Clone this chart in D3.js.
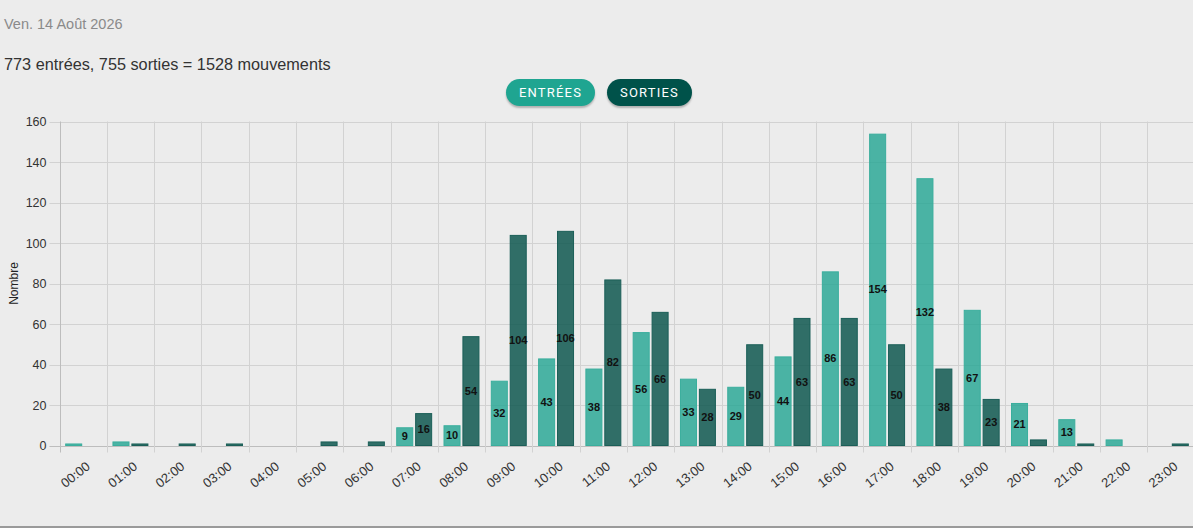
<!DOCTYPE html>
<html>
<head>
<meta charset="utf-8">
<script src="https://cdn.jsdelivr.net/npm/d3@7/dist/d3.min.js"></script>
<style>
  html, body { margin: 0; padding: 0; background: #ececec; width: 1193px; height: 528px; overflow: hidden; }
  body { position: relative; font-family: "Liberation Sans", Arial, Helvetica, sans-serif; }
  .date { position: absolute; left: 4px; top: 16px; font-size: 14.5px; color: #8a8a8a; }
  .summary { position: absolute; left: 4px; top: 55px; font-size: 16.25px; color: #333; }
  .btn { position: absolute; top: 79px; height: 27px; line-height: 27px; border-radius: 14px; color: #fff;
         font-family: Roboto, "Liberation Sans", sans-serif; font-size: 13px; letter-spacing: 1.2px; text-align: center;
         box-shadow: 0 2px 2px rgba(0,0,0,0.25); z-index: 2; }
  .bottomline { position: absolute; left: 0; top: 526px; width: 1193px; height: 2px; background: #9a9a9a; }
  svg { position: absolute; left: 0; top: 0; }
</style>
</head>
<body>
<div class="date">Ven. 14 Août 2026</div>
<div class="summary">773 entrées, 755 sorties = 1528 mouvements</div>
<div id="legend"></div>
<svg id="chart" width="1193" height="528"></svg>
<div class="bottomline"></div>
<script>
const hours = ["00:00","01:00","02:00","03:00","04:00","05:00","06:00","07:00","08:00","09:00","10:00","11:00",
               "12:00","13:00","14:00","15:00","16:00","17:00","18:00","19:00","20:00","21:00","22:00","23:00"];
const entrees = [1,2,0,0,0,0,0,9,10,32,43,38,56,33,29,44,86,154,132,67,21,13,3,0];
const sorties = [0,1,1,1,0,2,2,16,54,104,106,82,66,28,50,63,63,50,38,23,3,1,0,1];
const yTicks = [0,20,40,60,80,100,120,140,160];
const seriesNames = ["ENTRÉES","SORTIES"];
const seriesFill = ["rgba(38,166,148,0.82)","rgba(16,88,80,0.86)"];
const seriesStroke = ["#3aae9d","#1b5f58"];
const buttonColors = ["#1fa591","#00524a"];

// legend buttons
const legend = d3.select("#legend");
const btnPos = [{left:506,width:89},{left:607,width:85}];
seriesNames.forEach((n,i)=>{
  legend.append("div").attr("class","btn")
    .style("left",btnPos[i].left+"px").style("width",btnPos[i].width+"px")
    .style("background",buttonColors[i]).text(n);
});

const svg = d3.select("#chart");
const pLeft = 59.5, pRight = 1194.5, pTop = 121.5, pBottom = 445.5;

const x = d3.scaleBand().domain(hours).range([pLeft, pRight]).paddingInner(0).paddingOuter(0);
const y = d3.scaleLinear().domain([0,160]).range([pBottom, pTop]);
const x1 = d3.scaleBand().domain([0,1]).range([x.bandwidth()*0.1, x.bandwidth()*0.9]).paddingInner(0.1).paddingOuter(0.05);

// gridlines
const grid = svg.append("g");
yTicks.forEach(t=>{
  const gy = Math.round(y(t))+0.5;
  grid.append("line").attr("x1",pLeft-10).attr("x2",pRight).attr("y1",gy).attr("y2",gy)
    .attr("stroke", t===0 ? "#bdbdbd" : "#d2d2d2").attr("stroke-width",1);
});
hours.forEach((h,i)=>{
  const gx = Math.round(x(h))+0.5;
  grid.append("line").attr("x1",gx).attr("x2",gx).attr("y1",pTop).attr("y2",pBottom+7)
    .attr("stroke", i===0 ? "#bdbdbd" : "#d2d2d2").attr("stroke-width",1);
});

// y axis labels
const yAxis = d3.axisLeft(y).tickValues(yTicks).tickSize(0).tickPadding(13);
const yg = svg.append("g").attr("transform",`translate(${pLeft},0)`).call(yAxis);
yg.select(".domain").remove();
yg.selectAll("text").attr("font-family","Liberation Sans, Arial, sans-serif").attr("font-size",12.5).attr("fill","#333");

svg.append("text").attr("transform",`translate(18,${(pTop+pBottom)/2}) rotate(-90)`)
  .attr("text-anchor","middle").attr("font-size",12).attr("fill","#222")
  .attr("font-family","Liberation Sans, Arial, sans-serif").text("Nombre");

// x axis labels
const xAxis = d3.axisBottom(x).tickSize(0).tickPadding(0);
const xg = svg.append("g").attr("transform",`translate(0,${pBottom})`).call(xAxis);
xg.select(".domain").remove();
xg.selectAll("text")
  .attr("font-family","Liberation Sans, Arial, sans-serif").attr("font-size",13).attr("fill","#333")
  .attr("text-anchor","end").attr("dy","0.35em").attr("y",0)
  .attr("transform","translate(5,19) rotate(-38)");

// bars
const data = hours.map((h,i)=>({h, vals:[entrees[i], sorties[i]]}));
const groups = svg.append("g").selectAll("g").data(data).join("g")
  .attr("transform",d=>`translate(${x(d.h)},0)`);
groups.selectAll("rect").data(d=>d.vals.map((v,k)=>({v,k}))).join("rect")
  .attr("x",d=>x1(d.k)+0.5).attr("width",x1.bandwidth()-1)
  .attr("y",d=>y(d.v)+0.5).attr("height",d=>Math.max(0,pBottom-y(d.v)-0.5))
  .attr("fill",d=>seriesFill[d.k]).attr("stroke",d=>seriesStroke[d.k]).attr("stroke-width",1)
  .style("display",d=>d.v>0?null:"none");
groups.selectAll("text").data(d=>d.vals.map((v,k)=>({v,k}))).join("text")
  .filter(d=>d.v>=5)
  .attr("x",d=>x1(d.k)+x1.bandwidth()/2).attr("y",d=>y(d.v/2)).attr("dy","0.35em")
  .attr("text-anchor","middle").attr("font-size",11).attr("font-weight","bold")
  .attr("font-family","Liberation Sans, Arial, sans-serif").attr("fill","#111")
  .text(d=>d.v);
</script>
</body>
</html>
